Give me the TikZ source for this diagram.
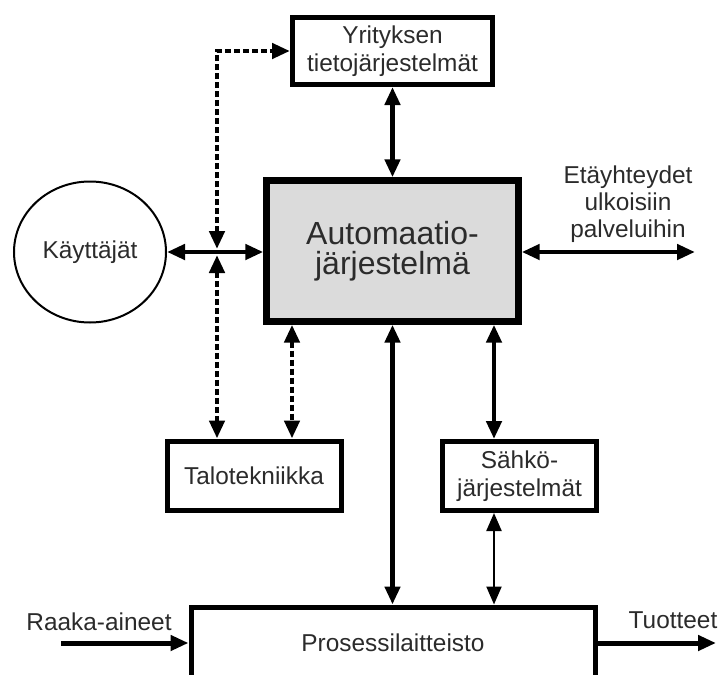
\documentclass[tikz,border=0pt]{standalone}
\usepackage{fontspec}
\setmainfont{Liberation Sans}
\usepackage{xcolor}
\usetikzlibrary{arrows.meta,shapes.geometric}

\definecolor{boxgray}{HTML}{DBDBDB}
\definecolor{textgray}{HTML}{2B2B2B}

\begin{document}
\begin{tikzpicture}[x=0.5pt, y=-0.5pt,
  every node/.style={font=\fontsize{12.2}{14}\selectfont, text=textgray, align=center},
  block/.style={draw, line width=2.5pt, inner sep=0pt},
  link/.style={line width=2.3pt, {Triangle[length=9pt,width=7.5pt]}-{Triangle[length=9pt,width=7.5pt]}},
  thinlink/.style={link, line width=1.1pt},
  dotlink/.style={link, line width=2.4pt, dash pattern=on 3pt off 1.5pt},
  flow/.style={line width=2.5pt, -{Triangle[length=9pt,width=7.5pt]}}]

\useasboundingbox (0,0) rectangle (719,675);
\clip (0,0) rectangle (719,675);

\node[block, minimum width=100pt, minimum height=33.5pt] (yrit) at (392.5,51) {Yrityksen\\tietojärjestelmät};
\node[block, fill=boxgray, line width=3.2pt, minimum width=126pt, minimum height=70.5pt,
      font=\fontsize{16}{15}\selectfont] (auto) at (392.5,251) {Automaatio-\\järjestelmä};
\node[draw, ellipse, line width=1pt, inner sep=0pt, minimum width=76pt, minimum height=70.5pt] (kay) at (90,252) {Käyttäjät};
\node[block, minimum width=87pt, minimum height=34.5pt] (talo) at (254,475.5) {Talotekniikka};
\node[block, minimum width=77pt, minimum height=34.5pt] (sahko) at (519.5,476) {Sähkö-\\järjestelmät};
\node[block, minimum width=202pt, minimum height=36pt] (proc) at (393,643) {Prosessilaitteisto};

\node[font=\fontsize{12.2}{13.5}\selectfont] (etay) at (628,204) {Etäyhteydet\\ulkoisiin\\palveluihin};
\node (raaka) at (99,622) {Raaka-aineet};
\node (tuot) at (673,620) {Tuotteet};

\coordinate (jn) at (217,252);
\coordinate (tx) at (292,475);
\coordinate (sx) at (494,476);
\coordinate (ulos) at (695,252);
\coordinate (sisaan) at (61,643);
\coordinate (loppu) at (716,643);

% solid links
\draw[link] (yrit) -- (auto);
\draw[link] (kay.east) -- (kay.east -| auto.west);
\draw[link] (auto.east |- ulos) -- (ulos);
\draw[link] (auto.south) -- (auto.south |- proc.north);
\draw[link] (auto.south -| sx) -- (sahko.north -| sx);
\draw[thinlink] (sahko.south -| sx) -- (proc.north -| sx);

% dashed links
\draw[dotlink, shorten <=1.5pt] (jn) -- (jn |- yrit.west) -- (yrit.west);
\draw[dotlink, shorten <=1.5pt] (jn) -- (jn |- talo.north);
\draw[dotlink] (auto.south -| tx) -- (talo.north -| tx);

% material flow
\draw[flow] (sisaan) -- (proc.west);
\draw[flow] (proc.east) -- (loppu);

\end{tikzpicture}
\end{document}
